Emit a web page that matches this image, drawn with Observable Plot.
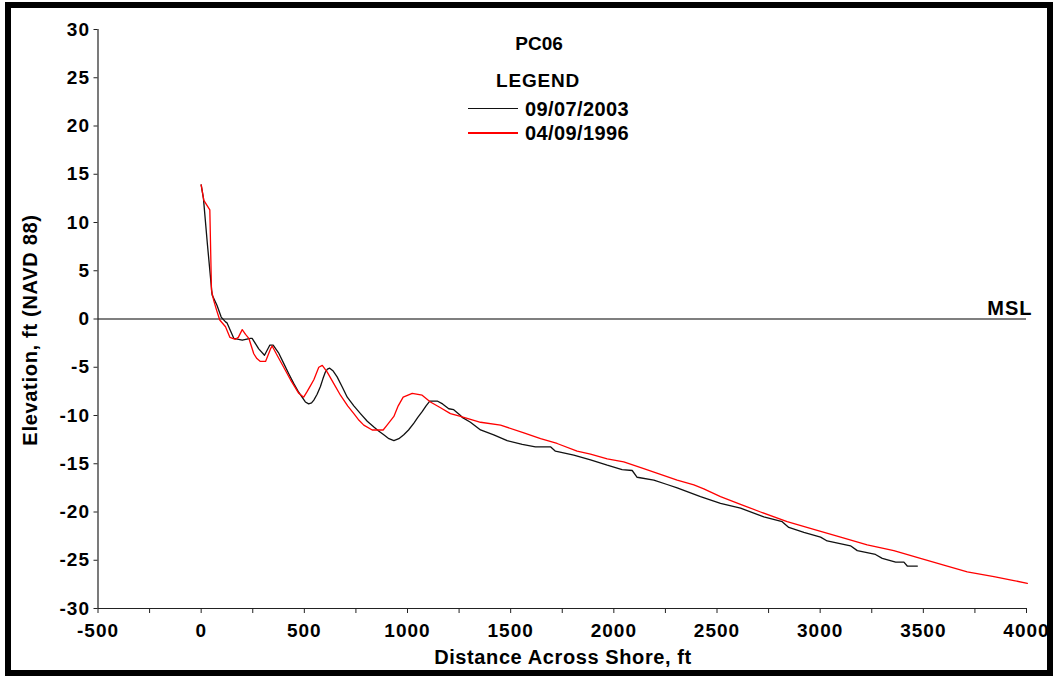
<!DOCTYPE html>
<html>
<head>
<meta charset="utf-8">
<script src="https://cdn.jsdelivr.net/npm/d3@7"></script>
<script src="https://cdn.jsdelivr.net/npm/@observablehq/plot@0.6"></script>
<style>
  html, body { margin: 0; padding: 0; background: #fff; }
  #wrap { position: relative; width: 1054px; height: 676px; overflow: hidden;
          font-family: "Liberation Sans", Arial, sans-serif; font-weight: bold; color: #000; }
  #wrap svg { position: absolute; left: 0; top: 0; }
  .lbl { position: absolute; white-space: nowrap; font-size: 20px; line-height: 1; }
  .ctr { transform: translate(-50%, -50%); }
  .lft { transform: translate(0, -50%); }
  .swatch { position: absolute; width: 50px; height: 1.5px; }
  #border { position: absolute; left: 5px; top: 2px; width: 1048px; height: 674px;
            border: 6px solid #000; box-sizing: border-box; pointer-events: none; }
</style>
</head>
<body>
<div id="wrap"></div>
<script>
// ---- Data ----
const seriesNames = ["09/07/2003", "04/09/1996"];
const seriesColors = ["#111111", "#ff0000"];

const dist2003 = [0, 11, 30, 53, 77, 97, 118, 125, 158, 199, 239, 247, 279, 307, 333, 349, 375, 400, 425, 449, 470, 489, 505, 521, 535, 546, 562, 578, 590, 602, 612, 623, 640, 659, 685, 708, 740, 772, 805, 837, 860, 885, 910, 934, 958, 982, 1005, 1031, 1050, 1071, 1090, 1108, 1144, 1170, 1200, 1224, 1257, 1265, 1305, 1354, 1418, 1483, 1556, 1620, 1693, 1717, 1806, 1887, 1968, 2040, 2089, 2113, 2194, 2258, 2307, 2420, 2517, 2614, 2727, 2816, 2848, 2921, 3002, 3034, 3147, 3180, 3268, 3301, 3366, 3406, 3422, 3471];
const elev2003 = [13.9, 12.5, 7.8, 2.5, 1.4, 0.2, -0.3, -0.4, -2.0, -2.2, -2.0, -2.0, -3.1, -3.75, -2.7, -2.7, -3.5, -4.6, -5.7, -6.7, -7.5, -8.1, -8.6, -8.8, -8.7, -8.4, -7.8, -7.0, -6.2, -5.5, -5.2, -5.1, -5.4, -6.0, -7.1, -8.1, -9.0, -9.8, -10.6, -11.2, -11.6, -12.0, -12.4, -12.6, -12.4, -12.0, -11.5, -10.8, -10.2, -9.6, -9.0, -8.5, -8.5, -8.8, -9.3, -9.4, -10.0, -10.2, -10.7, -11.5, -12.0, -12.6, -13.0, -13.25, -13.25, -13.7, -14.1, -14.6, -15.15, -15.6, -15.7, -16.4, -16.7, -17.15, -17.5, -18.4, -19.1, -19.6, -20.5, -21.0, -21.6, -22.1, -22.6, -23.0, -23.5, -24.0, -24.4, -24.8, -25.2, -25.2, -25.6, -25.6];

const dist1996 = [0, 13, 42, 50, 61, 75, 90, 118, 139, 166, 180, 199, 215, 231, 255, 270, 287, 312, 336, 344, 368, 400, 433, 473, 497, 514, 530, 546, 570, 587, 611, 640, 675, 710, 740, 765, 788, 829, 882, 901, 934, 955, 979, 1023, 1071, 1111, 1160, 1208, 1257, 1273, 1354, 1451, 1564, 1645, 1725, 1822, 1887, 1968, 2048, 2145, 2226, 2307, 2388, 2436, 2517, 2614, 2711, 2840, 2969, 3099, 3228, 3357, 3486, 3616, 3713, 3842, 3939, 4004];
const elev1996 = [13.9, 12.3, 11.3, 3.0, 1.9, 0.9, -0.1, -0.8, -1.9, -2.1, -1.9, -1.1, -1.6, -2.0, -3.6, -4.1, -4.4, -4.4, -3.1, -2.8, -3.75, -5.0, -6.3, -7.7, -8.1, -7.5, -6.9, -6.3, -5.0, -4.8, -5.5, -6.6, -7.9, -9.0, -9.8, -10.5, -11.0, -11.5, -11.5, -11.0, -10.1, -9.0, -8.1, -7.7, -7.9, -8.6, -9.2, -9.8, -10.1, -10.2, -10.7, -11.0, -11.8, -12.4, -12.9, -13.7, -14.0, -14.5, -14.8, -15.5, -16.1, -16.7, -17.2, -17.6, -18.4, -19.2, -20.0, -21.0, -21.8, -22.6, -23.4, -24.0, -24.8, -25.6, -26.2, -26.7, -27.1, -27.4];

const xTicks = [-500, 0, 500, 1000, 1500, 2000, 2500, 3000, 3500, 4000];
const xMinorTicks = [-250, 250, 750, 1250, 1750, 2250, 2750, 3250, 3750];
const yTicks = [-30, -25, -20, -15, -10, -5, 0, 5, 10, 15, 20, 25, 30];
const xDomain = [-500, 4000];
const yDomain = [-30, 30];
const mslLevel = [0];

const chartTitle = "PC06";
const legendTitle = "LEGEND";
const xTitle = "Distance Across Shore, ft";
const yTitle = "Elevation, ft (NAVD 88)";
const mslLabel = "MSL";

// ---- Chart ----
const axisColor = "#222";
const chart = Plot.plot({
  width: 1054,
  height: 676,
  marginLeft: 97.5,
  marginRight: 28,
  marginTop: 29,
  marginBottom: 68,
  style: { fontFamily: '"Liberation Sans", Arial, sans-serif', fontSize: "19px", fontWeight: "bold", letterSpacing: "1px", background: "transparent", color: "#000" },
  x: { domain: xDomain, label: null },
  y: { domain: yDomain, label: null },
  marks: [
    Plot.ruleY(mslLevel, { stroke: "#555", strokeWidth: 1.6 }),
    Plot.line(dist2003, { x: dist2003, y: elev2003, stroke: seriesColors[0], strokeWidth: 1.3 }),
    Plot.line(dist1996, { x: dist1996, y: elev1996, stroke: seriesColors[1], strokeWidth: 1.3 }),
    Plot.ruleX([xDomain[0]], { stroke: axisColor, strokeWidth: 1.2 }),
    Plot.ruleY([yDomain[0]], { stroke: axisColor, strokeWidth: 1.2 }),
    Plot.axisX({ ticks: xTicks, tickSize: 5, tickPadding: 10, tickFormat: d => String(d), label: null, stroke: axisColor }),
    Plot.axisX({ ticks: xMinorTicks, tickSize: 5, tickFormat: () => "", label: null, stroke: axisColor }),
    Plot.axisY({ ticks: yTicks, tickSize: 4, tickPadding: 4, tickFormat: d => String(d), label: null, stroke: axisColor }),
    Plot.text(mslLevel, { x: () => xDomain[1], y: d => d, text: () => mslLabel, textAnchor: "end", dx: 6, dy: -10, fontSize: 20, fontWeight: "bold" })
  ]
});

const wrap = document.getElementById("wrap");
wrap.appendChild(chart);

function addLabel(text, x, y, cls, extra) {
  const d = document.createElement("div");
  d.className = "lbl " + cls;
  d.textContent = text;
  d.style.left = x + "px";
  d.style.top = y + "px";
  if (extra) Object.assign(d.style, extra);
  wrap.appendChild(d);
  return d;
}

addLabel(chartTitle, 539, 43, "ctr", { fontSize: "19px" });
addLabel(legendTitle, 538, 80, "ctr", { fontSize: "19px", letterSpacing: "0.8px" });
seriesNames.forEach((name, i) => {
  const cy = 108.5 + i * 24.5;
  const sw = document.createElement("div");
  sw.className = "swatch";
  sw.style.left = "468px";
  sw.style.top = (cy - 0.75) + "px";
  sw.style.background = seriesColors[i];
  wrap.appendChild(sw);
  addLabel(name, 525, cy, "lft", { letterSpacing: "0.4px" });
});
addLabel(xTitle, 563, 657, "ctr", { letterSpacing: "0.6px" });
addLabel(yTitle, 30, 330, "", { letterSpacing: "0.7px", transform: "translate(-50%, -50%) rotate(-90deg)" });

const border = document.createElement("div");
border.id = "border";
wrap.appendChild(border);
</script>
</body>
</html>
